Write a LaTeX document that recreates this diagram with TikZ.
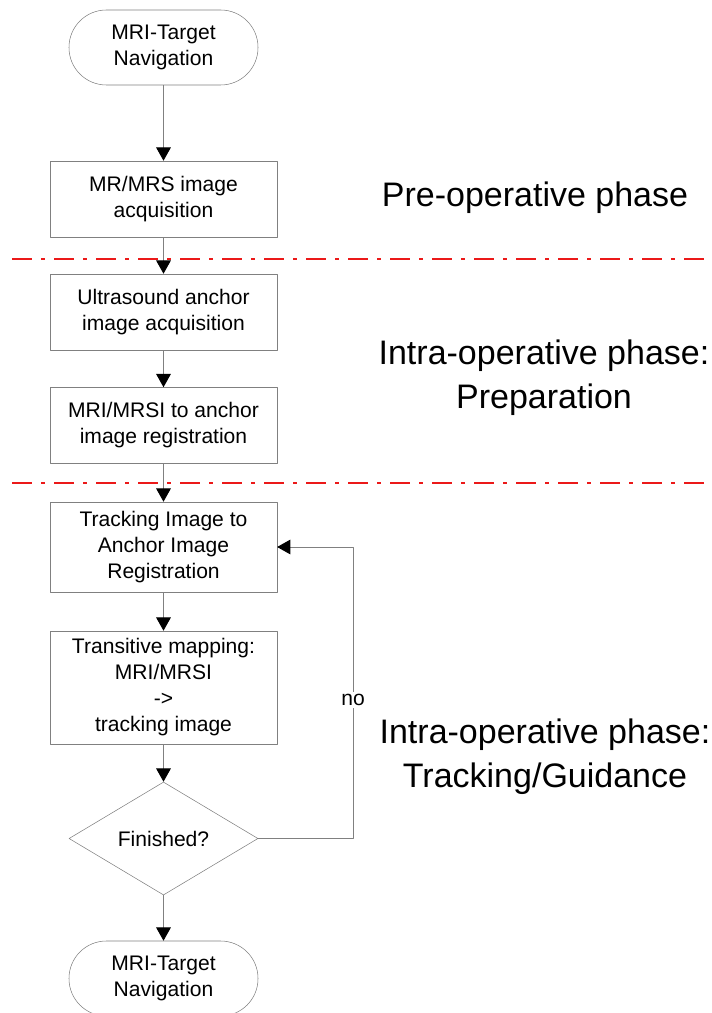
\documentclass[tikz,border=0pt]{standalone}
\usepackage{fontspec}
\setmainfont{Liberation Sans}
\usetikzlibrary{shapes.geometric,arrows.meta}
\begin{document}
\begin{tikzpicture}[x=0.75pt,y=-0.75pt,line join=round,>={Triangle[length=10pt,width=11pt,color=black]}]
	\tikzset{
		buoc/.style={draw=gray,fill=white,minimum width=170pt,minimum height=57pt,inner sep=2pt,align=center,font=\fontsize{15.8}{19.5}\selectfont},
		dau-cuoi/.style={buoc,minimum width=141.75pt,minimum height=56.25pt,rounded corners=28pt},
		hoi/.style={buoc,diamond,minimum width=141.75pt,minimum height=84.75pt,inner sep=0pt},
		noi/.style={draw=gray,line width=0.75pt,->},
		giai-doan/.style={align=center,font=\fontsize{25.5}{33}\selectfont},
		ranh-gioi/.style={draw={rgb,255:red,235;green,25;blue,25},line width=1.5pt,dash pattern=on 15pt off 6.75pt on 3pt off 6.75pt}
	}
	\useasboundingbox (0,0) rectangle (711,1013);
	% phase borders
	\draw[ranh-gioi] (12,259) -- (711,259);
	\draw[ranh-gioi] (12,483) -- (711,483);
	% flow
	\node[dau-cuoi] (bat-dau) at (163.5,47.5) {MRI-Target\\Navigation};
	\node[buoc] (mr-acq) at (163.5,199) {MR/MRS image\\acquisition};
	\node[buoc] (us-anchor) at (163.5,312) {Ultrasound anchor\\image acquisition};
	\node[buoc] (mri-reg) at (163.5,425.5) {MRI/MRSI to anchor\\image registration};
	\node[buoc,minimum height=67.5pt] (track-reg) at (163.5,547) {Tracking Image to\\Anchor Image\\Registration};
	\node[buoc,minimum height=84.75pt] (mapping) at (163.5,687.5) {Transitive mapping:\\MRI/MRSI\\->\\tracking image};
	\node[hoi] (xong) at (163.5,838.5) {Finished?};
	\node[dau-cuoi] (ket-thuc) at (163.5,978.5) {MRI-Target\\Navigation};
	\draw[noi] (bat-dau) -- (mr-acq);
	\draw[noi] (mr-acq) -- (us-anchor);
	\draw[noi] (us-anchor) -- (mri-reg);
	\draw[noi] (mri-reg) -- (track-reg);
	\draw[noi] (track-reg) -- (mapping);
	\draw[noi] (mapping) -- (xong);
	\draw[noi] (xong) -- (ket-thuc);
	\coordinate (vong) at (353,838.5);
	\draw[noi] (xong.east) -- (vong) -- node[fill=white,inner sep=2pt,pos=0.475,font=\fontsize{15.8}{19.5}\selectfont]{no} (vong|-track-reg.east) -- (track-reg.east);
	% phase labels
	\node[giai-doan] (pre-op) at (535,198) {Pre-operative phase};
	\node[giai-doan] (intra-prep) at (544,378) {Intra-operative phase:\\Preparation};
	\node[giai-doan] (intra-track) at (545,756.5) {Intra-operative phase:\\Tracking/Guidance};
\end{tikzpicture}
\end{document}
